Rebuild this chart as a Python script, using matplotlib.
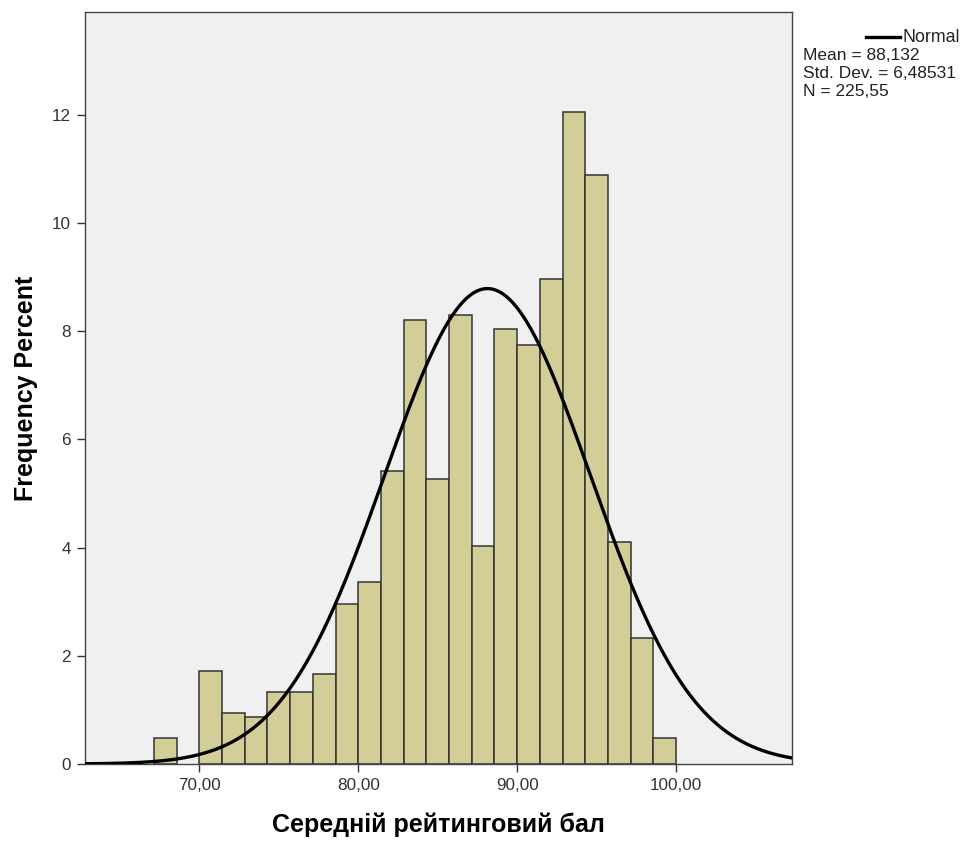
import numpy as np
import matplotlib.pyplot as plt

# histogram data read from the SPSS output (percent per bin)
bin_start = 470 / 7          # 67.14
bin_width = 10 / 7           # 1.4286
percents = [0.48, 0.0, 1.72, 0.95, 0.86, 1.34, 1.34, 1.66, 2.96, 3.36, 5.42,
            8.21, 5.27, 8.30, 4.03, 8.04, 7.75, 8.96, 12.05, 10.89, 4.10,
            2.33, 0.48]

mean = 88.132
std_dev = 6.48531
n_weighted = 225.55

x_ticks = [70, 80, 90, 100]
x_tick_labels = ["70,00", "80,00", "90,00", "100,00"]
y_ticks = [0, 2, 4, 6, 8, 10, 12]

plt.rcParams["font.family"] = ["Liberation Sans", "DejaVu Sans"]

fig = plt.figure(figsize=(9.66, 8.41), dpi=100)
ax = fig.add_axes([85 / 966, 77 / 841, 707 / 966, 752 / 841])
ax.set_facecolor("#F0F0F0")

lefts = bin_start + bin_width * np.arange(len(percents))
for left, h in zip(lefts, percents):
    if h > 0:
        ax.bar(left, h, width=bin_width, align="edge",
               color="#D3CE97", edgecolor="#333333", linewidth=1.1, zorder=2)

xlim = (62.8, 107.3)
xs = np.linspace(xlim[0], xlim[1], 500)
pdf = 100 * bin_width / (std_dev * np.sqrt(2 * np.pi)) * np.exp(-0.5 * ((xs - mean) / std_dev) ** 2)
ax.plot(xs, pdf, color="black", linewidth=2.4, zorder=3)

ax.set_xlim(*xlim)
ax.set_ylim(0, 13.9)
ax.set_xticks(x_ticks)
ax.set_xticklabels(x_tick_labels)
ax.set_yticks(y_ticks)
ax.tick_params(axis="both", direction="out", length=6, width=1, color="#333333",
               labelsize=12.3, labelcolor="#333333", pad=4)

for spine in ax.spines.values():
    spine.set_color("#444444")
    spine.set_linewidth(1)

ax.set_xlabel("Середній рейтинговий бал", fontsize=18, fontweight="bold",
              labelpad=14)
ax.set_ylabel("Frequency Percent", fontsize=18, fontweight="bold", labelpad=10)

# legend block to the right of the plot
fig.add_artist(plt.Line2D([866 / 966, 900 / 966], [1 - 37 / 841, 1 - 37 / 841],
                          color="black", linewidth=2.4))
fig.text(902 / 966, 1 - 37 / 841, "Normal", fontsize=12.8, va="center", color="#222222")
fig.text(803 / 966, 1 - 56 / 841, "Mean = 88,132", fontsize=12.5, va="center", color="#222222")
fig.text(803 / 966, 1 - 73 / 841, "Std. Dev. = 6,48531", fontsize=12.5, va="center", color="#222222")
fig.text(803 / 966, 1 - 91 / 841, "N = 225,55", fontsize=12.5, va="center", color="#222222")

fig.savefig("out.png", dpi=100)
plt.close(fig)
